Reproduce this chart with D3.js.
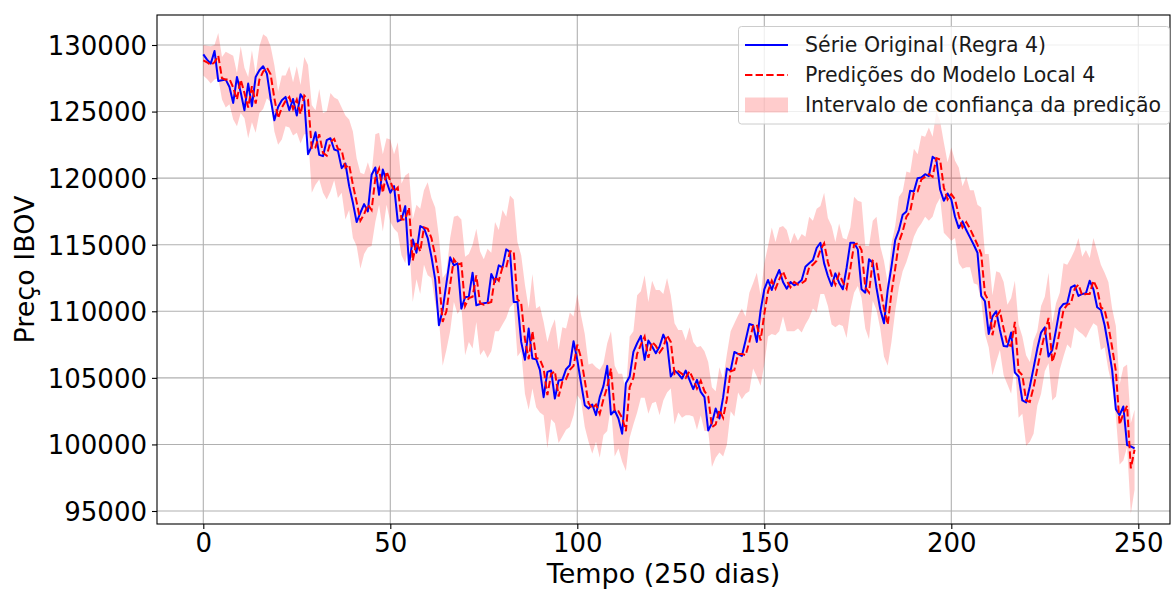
<!DOCTYPE html>
<html>
<head>
<meta charset="utf-8">
<script src="https://cdn.jsdelivr.net/npm/d3@7"></script>
<style>
  html, body { margin: 0; padding: 0; background: #ffffff; }
  svg { display: block; font-family: "DejaVu Sans", sans-serif; }
</style>
</head>
<body>
<svg id="chart" width="1171" height="590"></svg>
<script>
// Daily IBOV closing price (original series)
const original = [
129300,128900,128600,129550,127300,127350,127400,126850,125650,127600,
126450,125100,127100,125400,127600,128100,128400,127850,125950,124350,
125350,125850,126100,125100,125950,124700,126300,125850,121800,122400,
123450,121750,121650,122850,123000,122150,122050,120750,121100,119400,
118150,116700,117400,118050,117500,120250,120800,118750,120650,119750,
118900,119400,116750,116900,117900,113500,115400,114400,116400,116250,
115500,114100,112400,108950,110100,112100,114050,113450,113600,110200,
111050,111100,112900,110450,110550,110600,110650,112800,112200,113450,
113300,114650,114450,110700,110700,107700,106350,108700,106450,106400,
105600,103550,105450,105550,103450,104800,104850,105650,105950,107750,
106350,104600,102950,102700,103000,102200,103550,104400,105900,102250,
102550,101950,100800,104600,105100,106950,107600,108150,106350,107800,
107350,106850,107350,108250,107600,105100,105550,105300,104950,105550,
104850,104150,104850,103950,103550,101050,101600,102700,101950,103550,
105700,105550,106950,106800,106650,107800,109050,108950,107700,110050,
111650,112350,111600,112450,113100,112200,111700,112200,111950,112100,
112350,113350,113600,113850,114750,115150,113600,112650,111900,112850,
112150,111650,113250,115150,115150,114650,111650,111400,113900,113650,
111750,110150,109100,111600,113350,115350,116100,117250,117500,119050,
119000,120000,120050,120300,120150,121600,121400,119150,118300,118850,
118400,117100,116250,116750,116100,115550,115000,114400,111150,110750,
108300,109600,110000,108600,107400,107350,108400,105400,105100,103300,
103150,104350,105750,107200,108400,108800,106600,107100,108600,110200,
110550,110600,111800,111950,111150,111300,111350,112300,111650,110300,
110100,108950,107350,105600,102650,102200,102850,99950,99850,99700
];

// One-step-ahead predictions of local model 4
const predicted = [
128850,128700,128500,128700,129200,127500,127400,127450,126800,125900,
127400,126400,125300,126900,125600,127400,128000,128300,127800,126000,
124500,125300,125800,126100,125200,125900,124800,126200,125900,122200,
122300,123300,121900,121700,122700,122950,122200,122100,120800,121000,
119500,118200,116800,117300,118000,117600,120000,120700,118900,120500,
119800,119000,119300,116900,116900,117800,113800,115200,114500,116300,
116200,115500,114200,112500,109200,110000,112000,113900,113500,113600,
110400,111000,111100,112700,110600,110500,110600,110700,112600,112300,
113300,113300,114500,114500,110900,110600,107900,106400,108500,106500,
106400,105700,103700,105300,105500,103600,104700,104900,105600,105900,
107500,106500,104800,103100,102700,103000,102300,103400,104300,105700,
102500,102500,102000,101000,104300,105000,106800,107500,108100,106500,
107700,107400,106900,107300,108200,107700,105300,105500,105300,105000,
105500,104900,104200,104800,104000,103600,101300,101500,102600,102000,
103400,105500,105600,106800,106800,106700,107700,108900,109000,107800,
109800,111500,112300,111700,112400,113000,112300,111800,112200,112000,
112100,112300,113300,113500,113800,114600,115100,113700,112700,112000,
112800,112200,111700,113200,115000,115100,114600,111800,111400,113800,
113600,111800,110200,109000,111400,113200,115200,116000,117100,117500,
118900,119000,119900,120100,120300,120100,121500,121400,119300,118400,
118800,118400,117200,116300,116700,116200,115600,115000,114300,111300,
110800,108200,109600,110000,108700,107500,107400,109200,105500,105200,
103300,103200,104300,105700,107100,108300,109500,106200,107100,108500,
110100,110500,110600,111700,112000,111200,111300,111300,112300,111700,
110300,110100,108900,107300,105500,101500,102300,102900,98200,99600
];

// Half-width of the prediction confidence interval
const halfWidth = [
1150,1250,1400,1300,1700,1600,2100,1900,2400,2000,
2500,1900,2300,2700,2200,2500,2800,2300,2100,2500,
2000,2400,1900,2300,2000,2500,2200,2900,2600,3300,
2800,3400,3000,3300,3700,3100,3700,3200,3900,3400,
4000,3300,3600,3000,3200,2700,3300,2700,2900,2500,
3100,2800,3400,2700,3300,2600,3100,2800,3200,2800,
3500,3000,3600,3100,3300,2900,3500,3200,3700,3300,
3700,3300,3900,3500,3900,3400,4100,3700,4100,3800,
4300,3800,4200,3900,4300,3600,4100,3800,4300,3700,
4000,3500,4000,3400,3900,3500,4100,3800,4300,3700,
3800,3200,3500,2900,3400,2800,3300,2700,3300,2800,
3400,2800,3300,3000,3800,3500,4400,4000,4600,4200,
4600,4200,4700,4000,4300,3500,3800,3100,3300,2800,
3300,2800,3100,2600,3000,2600,3000,2500,3200,2900,
3400,3000,3500,2900,3400,2900,3700,3200,3900,3400,
3800,3400,4000,3500,3900,3400,3800,3300,3700,3300,
3700,3300,3800,3300,3900,3300,3800,3300,3700,3200,
3800,3300,3700,3100,3600,3200,3600,3100,3500,3000,
3500,3100,3600,3100,3700,3200,3400,3000,3400,2900,
3300,2800,3300,3000,3500,3000,3500,2900,3400,2800,
3500,2900,3600,3100,3400,2900,3500,3000,3500,3000,
3500,3000,3400,2900,3500,3000,3600,3100,3500,2900,
3400,3000,3500,2800,3300,2800,3400,2900,3500,2900,
3500,3000,3400,2900,3500,2900,3300,2700,3200,2800,
3200,2800,3300,2900,3400,3000,3500,3100,3400,3000
];

const xTicks = [0, 50, 100, 150, 200, 250];
const yTicks = [95000, 100000, 105000, 110000, 115000, 120000, 125000, 130000];

const legendLabels = [
  "Série Original (Regra 4)",
  "Predições do Modelo Local 4",
  "Intervalo de confiança da predição"
];

const xLabel = "Tempo (250 dias)";
const yLabel = "Preço IBOV";

// ---- layout ----
const svg = d3.select("#chart");
const plot = { left: 157, right: 1170, top: 15, bottom: 524 };

const x = d3.scaleLinear().domain([0, 250]).range([203.3, 1138.3]);
const y = d3.scaleLinear().domain([95000, 130000]).range([511, 45]);

svg.append("rect").attr("width", 1171).attr("height", 590).attr("fill", "#ffffff");

svg.append("defs").append("clipPath").attr("id", "plotClip")
  .append("rect")
  .attr("x", plot.left).attr("y", plot.top)
  .attr("width", plot.right - plot.left).attr("height", plot.bottom - plot.top);

// grid
const grid = svg.append("g").attr("stroke", "#b0b0b0").attr("stroke-width", 1.1);
grid.selectAll("line.gx").data(xTicks).join("line")
  .attr("x1", d => x(d)).attr("x2", d => x(d))
  .attr("y1", plot.top).attr("y2", plot.bottom);
grid.selectAll("line.gy").data(yTicks).join("line")
  .attr("x1", plot.left).attr("x2", plot.right)
  .attr("y1", d => y(d)).attr("y2", d => y(d));

const data = original.map((v, i) => ({
  i, v, p: predicted[i], lo: predicted[i] - halfWidth[i], hi: predicted[i] + halfWidth[i]
}));

const layer = svg.append("g").attr("clip-path", "url(#plotClip)");

// confidence band
layer.append("path")
  .datum(data)
  .attr("fill", "#ff0000").attr("fill-opacity", 0.2)
  .attr("d", d3.area().x(d => x(d.i)).y0(d => y(d.lo)).y1(d => y(d.hi)));

// original series
layer.append("path")
  .datum(data)
  .attr("fill", "none").attr("stroke", "#0000ff").attr("stroke-width", 2)
  .attr("stroke-linejoin", "round")
  .attr("d", d3.line().x(d => x(d.i)).y(d => y(d.v)));

// predictions
layer.append("path")
  .datum(data)
  .attr("fill", "none").attr("stroke", "#ff0000").attr("stroke-width", 2)
  .attr("stroke-dasharray", "7.4,3.2")
  .attr("d", d3.line().x(d => x(d.i)).y(d => y(d.p)));

// axes
const xAxis = svg.append("g").attr("transform", `translate(0,${plot.bottom})`)
  .call(d3.axisBottom(x).tickValues(xTicks).tickSize(5).tickPadding(5).tickFormat(d3.format("d")));
const yAxis = svg.append("g").attr("transform", `translate(${plot.left},0)`)
  .call(d3.axisLeft(y).tickValues(yTicks).tickSize(5).tickPadding(5).tickFormat(d3.format("d")));

[xAxis, yAxis].forEach(a => {
  a.select(".domain").remove();
  a.selectAll(".tick line").attr("stroke", "#000").attr("stroke-width", 1.1);
  a.selectAll(".tick text").attr("fill", "#000")
    .style("font-family", "'DejaVu Sans', sans-serif").style("font-size", "26px");
});
xAxis.selectAll(".tick text").attr("dy", "0.71em");
yAxis.selectAll(".tick text").attr("dy", "0.36em");

// spines
svg.append("rect")
  .attr("x", plot.left).attr("y", plot.top)
  .attr("width", plot.right - plot.left).attr("height", plot.bottom - plot.top)
  .attr("fill", "none").attr("stroke", "#000").attr("stroke-width", 1.1);

// axis labels
svg.append("text")
  .attr("x", (plot.left + plot.right) / 2).attr("y", 583)
  .attr("text-anchor", "middle").style("font-size", "27px").attr("fill", "#000")
  .text(xLabel);
svg.append("text")
  .attr("transform", `translate(34,${(plot.top + plot.bottom) / 2}) rotate(-90)`)
  .attr("text-anchor", "middle").style("font-size", "27px").attr("fill", "#000")
  .text(yLabel);

// legend
const lg = svg.append("g");
lg.append("rect")
  .attr("x", 738.5).attr("y", 26.5).attr("width", 431).attr("height", 97.5)
  .attr("rx", 3).attr("ry", 3)
  .attr("fill", "#ffffff").attr("fill-opacity", 0.8)
  .attr("stroke", "#cccccc").attr("stroke-width", 1);

const rowY = [45, 75, 105];
lg.append("line").attr("x1", 745).attr("x2", 788).attr("y1", rowY[0]).attr("y2", rowY[0])
  .attr("stroke", "#0000ff").attr("stroke-width", 2);
lg.append("line").attr("x1", 745).attr("x2", 788).attr("y1", rowY[1]).attr("y2", rowY[1])
  .attr("stroke", "#ff0000").attr("stroke-width", 2).attr("stroke-dasharray", "7.4,3.2");
lg.append("rect").attr("x", 745).attr("y", rowY[2] - 7.5).attr("width", 43).attr("height", 15)
  .attr("fill", "#ff0000").attr("fill-opacity", 0.2);

lg.selectAll("text.leg").data(legendLabels).join("text")
  .attr("x", 805).attr("y", (d, i) => rowY[i])
  .attr("dy", "0.36em")
  .style("font-size", "20.5px").attr("fill", "#1a1a1a")
  .text(d => d);
</script>
</body>
</html>
